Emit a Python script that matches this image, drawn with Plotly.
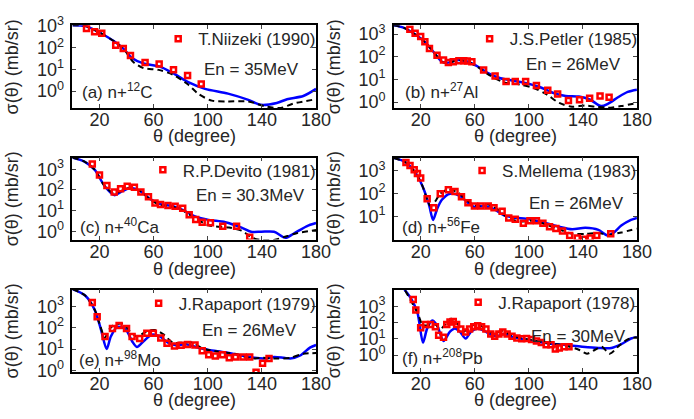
import plotly.graph_objects as go

W, H = 694, 419
FONT = "Liberation Sans, Arial, Helvetica, sans-serif"
TXT = "#262626"

# ---------------- data (theta in degree, sigma in mb/sr) ----------------
# (a) n+12C, 35 MeV
a_exp_t = [10.4, 16.4, 21.7, 32, 37.6, 42.9, 53.7, 64.1, 74.7, 85.1, 95.2]
a_exp_s = [780, 550, 470, 130, 93, 44, 21, 18, 9.6, 5.2, 2.1]
a_blue_t = [0, 9.8, 21, 30.8, 38, 44, 52.5, 64.6, 74, 86, 98, 115, 130, 139, 151, 158.6, 170.6, 180]
a_blue_s = [1100, 1000, 470, 200, 87, 34, 19, 13.5, 6.9, 2.5, 1.26, 0.76, 0.39, 0.23, 0.28, 0.42, 0.59, 1.26]
a_dash_t = [0, 9.8, 21, 30.8, 38, 45, 52.5, 63.8, 74, 85, 93.5, 103, 115, 130, 141.7, 154, 163, 180]
a_dash_s = [1100, 1000, 470, 200, 87, 22, 11.5, 9.5, 5.8, 2.1, 0.71, 0.36, 0.33, 0.33, 0.20, 0.166, 0.26, 0.42]

# (b) n+27Al, 26 MeV
b_exp_t = [11.9, 15.8, 19.9, 23, 26.4, 32, 36.8, 40.4, 44, 48.2, 51.8, 54.4, 57.8, 66.5, 75, 83.1,
           89.9, 97.6, 105.6, 114, 121.3, 129.3, 137.5, 145, 152.7, 159.4]
b_exp_s = [1620, 1100, 790, 457, 234, 115, 71, 55, 60, 66, 66, 65, 60, 26, 14.1, 8.1,
           8.1, 8.1, 5.4, 3.3, 2.24, 1.17, 1.26, 1.48, 1.86, 1.62]
b_blue_t = [0, 7.1, 16.3, 23.5, 29.6, 35.6, 40.4, 47.6, 54.9, 62.1, 69.4, 79, 88.7, 98.3, 108, 117.7,
            127.3, 137, 145.4, 153.4, 158.7, 166, 173.2, 180]
b_blue_s = [2450, 1950, 930, 417, 158, 60, 55, 71, 60, 37, 19.5, 11.2, 8.7, 6.8, 4.6, 2.57,
            1.86, 1.74, 1.26, 0.66, 0.85, 1.62, 2.8, 3.5]
b_dash_t = [0, 7.1, 16.3, 23.5, 29.6, 35.6, 40.4, 47.6, 54.9, 62.1, 71.8, 81.5, 93.6, 103, 112.8,
            122.5, 132, 141.8, 149, 158.7, 168.3, 180]
b_dash_s = [2450, 1950, 930, 417, 158, 60, 55, 71, 60, 35, 14.1, 7.4, 5.9, 4.3, 2.24,
            0.91, 0.62, 0.71, 0.62, 0.56, 0.66, 0.91]

# (c) n+40Ca, 30.3 MeV
c_exp_t = [14.7, 20, 25.5, 30.9, 35.6, 40.5, 45.8, 50.6, 56.2, 61, 65.1, 70.6, 75.9, 81.5, 86.3,
           91.1, 95.9, 102, 111.1, 121.3, 131]
c_exp_s = [1780, 525, 162, 79, 115, 151, 135, 79, 47, 23, 19.5, 17.4, 16.2, 12.9, 6.3,
           3.7, 2.75, 2.57, 1.74, 1.74, 0.52]
c_blue_t = [0, 9.2, 16.4, 23.6, 30.9, 36.9, 42.9, 50.1, 57.3, 64.6, 74.3, 81.5, 91.1, 100.7, 113,
            125, 132, 139.5, 149, 157.4, 163.4, 173, 180]
c_blue_s = [3630, 2290, 955, 162, 56, 87, 123, 87, 37, 21, 16.2, 10.7, 5.1, 3.55, 2.75,
            1.51, 0.95, 0.95, 0.95, 0.48, 0.76, 1.74, 2.5]
c_dash_t = [0, 9.2, 16.4, 23.6, 30.9, 36.9, 42.9, 50.1, 57.3, 64.6, 74.3, 81.5, 91.1, 100.7, 115.7,
            125, 133, 139.5, 149, 156, 165.7, 180]
c_dash_s = [3630, 2290, 955, 162, 66, 95, 123, 87, 35, 19, 14.8, 10, 4.2, 1.95, 1.51,
            1.07, 0.48, 0.38, 0.38, 0.52, 0.81, 1.15]

# (d) n+56Fe, 26 MeV
d_exp_t = [9, 12, 15.1, 17.5, 19.9, 24.7, 29.6, 34.4, 40.4, 45.3, 50.1, 54.9, 59.7, 64.6, 69.9, 74.2,
           80.2, 85.1, 89.9, 95.9, 100.8, 105.6, 110.4, 115.3, 120, 124.9, 130.2, 135.8, 140.6,
           145.4, 150.3, 160.6]
d_exp_s = [2340, 1700, 1120, 776, 490, 60, 24.5, 100, 148, 126, 74, 40, 29, 29, 29, 24.5,
           17, 8.7, 7.6, 5.1, 6.5, 6.5, 5.1, 3.55, 2.95, 2.34, 1.48, 1.15, 1.0,
           1.15, 1.48, 1.74]
d_blue_t = [0, 9, 16.3, 21.1, 26, 29.1, 32, 35.6, 41.6, 48.9, 54.9, 59.7, 67, 74.2, 81.5, 88.7,
            100.8, 112.8, 122.5, 132, 141.8, 151.5, 158.2, 162.3, 168.4, 175.6, 180]
d_blue_s = [3700, 2340, 776, 224, 34, 7.1, 21, 54, 100, 81, 40, 26, 29, 21, 11.2, 9.1,
            7.6, 5.1, 3.55, 2.75, 3.2, 2.6, 1.48, 1.86, 4.0, 7.1, 8.7]
d_dash_t = [0, 9, 16.3, 21.1, 27.2, 30.8, 34.4, 40.4, 47.6, 54.9, 62.1, 69.4, 76.6, 85.1, 93.6,
            103, 112.8, 122.5, 132, 141.8, 151.5, 158.7, 168.4, 180]
d_dash_s = [3700, 2340, 776, 224, 29, 47, 100, 151, 112, 47, 29, 34, 21, 8.3, 6.0,
            6.6, 4.4, 2.75, 1.74, 1.74, 1.9, 1.58, 2.0, 2.95]

# (e) n+98Mo, 26 MeV
e_exp_t = [14.7, 18.3, 24.1, 29.6, 34.5, 40, 44.1, 49.7, 55, 59.8, 65.3, 69.9, 75.4, 80.3, 85.1,
           90.6, 95.9, 100.7, 105.6, 110.9, 115.9, 120.5, 126, 131, 135.7, 140.5, 145.3]
e_exp_s = [1510, 331, 39, 91, 129, 91, 39, 31, 55, 55, 33, 18.6, 14.1, 15.1, 16.6,
           15.5, 8.3, 5.4, 4.7, 5.4, 3.9, 4.3, 4.3, 4.3, 0.83, 2.14, 3.6]
e_blue_t = [0, 9.2, 16.4, 21.2, 25.3, 28.4, 33.3, 39.3, 44.1, 47.7, 52.6, 58.6, 64.6, 70.6, 76.6,
            83.9, 91.1, 100.7, 112.8, 124.9, 134.5, 141.7, 149, 156.2, 161, 168.3, 175.5, 180]
e_blue_s = [6460, 3310, 708, 78, 10, 39, 110, 85, 23.4, 12.6, 23.4, 47, 39, 20, 15.1,
            16.6, 12.6, 9.1, 7.1, 5.0, 3.9, 3.6, 4.3, 3.9, 3.6, 5.0, 11.7, 15.5]
e_dash_t = [0, 9.2, 16.4, 20.5, 24, 27.5, 31, 36.9, 42.9, 47.7, 55, 61, 67, 74.3, 81.5, 88.7, 95.9,
            105.6, 120, 132, 139.3, 151.3, 161, 170.6, 180]
e_dash_s = [6460, 3310, 708, 126, 35, 89, 138, 155, 65, 39, 69, 78, 50, 20, 20, 20, 11,
            7.9, 6.0, 3.6, 3.9, 3.6, 3.9, 6.0, 6.5]

# (f) n+208Pb, 30 MeV
f_exp_t = [14.4, 16.3, 19.9, 23.5, 27.2, 30.8, 33.2, 36.8, 39.2, 41.6, 44, 46.5, 49.6, 53.2, 56.1,
           59.2, 62.1, 65, 68.2, 71.8, 74.7, 77.8, 80.7, 83.9, 87.5, 91.1, 94.7, 98.3, 102, 105.6,
           109.2, 112.8, 116.4, 119.6, 122.5, 126.1, 129.7]
f_exp_s = [2630, 589, 48, 76, 76, 55, 16.6, 12.6, 76, 107, 117, 76, 40, 26, 40,
           55, 63, 55, 40, 20, 14.5, 20, 26, 20, 14.5, 11.5, 10.2, 10.5, 9.3, 7.4,
           5.9, 4.3, 4.3, 2.4, 2.75, 3.3, 3.3]
f_blue_t = [5, 7.8, 12.7, 17.5, 21.6, 24.7, 28.4, 32, 36.8, 41.6, 45.3, 48.9, 53.2, 57.3, 62.1, 67,
            71.8, 76.2, 81.5, 86.3, 93.6, 103.2, 115.3, 127.3, 139.4, 151.5, 161.1, 168.4, 175.6, 180]
f_blue_s = [31600, 11500, 3020, 407, 5.9, 44, 135, 69, 7.4, 28, 44, 28, 10.5, 28, 44, 31,
            18.2, 14.5, 20, 14.5, 10.5, 7.4, 5.2, 4.2, 3.3, 2.75, 2.75, 4.7, 10.5, 12.6]
f_dash_t = [5, 7.8, 17.5, 21.6, 26, 30.8, 34.4, 38, 42.4, 46.5, 51.3, 54.9, 59.7, 64.6, 69.4, 74.2,
            80.2, 86.3, 93.6, 103.2, 115.3, 127.3, 137, 143, 149, 153.9, 159.9, 166, 173.2, 180]
f_dash_s = [31600, 11500, 407, 69, 69, 76, 40, 76, 170, 107, 28, 44, 76, 63, 31, 22,
            31, 18.2, 11.5, 8.1, 5.2, 3.8, 2.14, 1.23, 2.14, 3.3, 1.23, 3.3, 9.3, 12.6]

exp_names = ["T.Niizeki (1990)", "J.S.Petler (1985)", "R.P.Devito (1981)",
             "S.Mellema (1983)", "J.Rapaport (1979)", "J.Rapaport (1978)"]
energies = ["En = 35MeV", "En = 26MeV", "En = 30.3MeV", "En = 26MeV", "En = 26MeV", "En = 30MeV"]
labels = ["(a) n+<sup>12</sup>C", "(b) n+<sup>27</sup>Al", "(c) n+<sup>40</sup>Ca",
          "(d) n+<sup>56</sup>Fe", "(e) n+<sup>98</sup>Mo", "(f) n+<sup>208</sup>Pb"]
y_ranges = [[-0.79, 3.04], [-0.27, 3.39], [-0.40, 3.56], [-0.01, 3.58], [-0.07, 3.79], [-1.03, 4.03]]
x_ticks = [20, 60, 100, 140, 180]

exp_t = [a_exp_t, b_exp_t, c_exp_t, d_exp_t, e_exp_t, f_exp_t]
exp_s = [a_exp_s, b_exp_s, c_exp_s, d_exp_s, e_exp_s, f_exp_s]
blue_t = [a_blue_t, b_blue_t, c_blue_t, d_blue_t, e_blue_t, f_blue_t]
blue_s = [a_blue_s, b_blue_s, c_blue_s, d_blue_s, e_blue_s, f_blue_s]
dash_t = [a_dash_t, b_dash_t, c_dash_t, d_dash_t, e_dash_t, f_dash_t]
dash_s = [a_dash_s, b_dash_s, c_dash_s, d_dash_s, e_dash_s, f_dash_s]

# ---------------- layout geometry (pixels) ----------------
cols = [(74, 323), (402.5, 651)]
rows = [(15, 102), (154, 240), (292.5, 379)]
legend_pos = [(196.7, 31.7), (515, 31.7), (181, 169.3), (507.3, 170), (176.7, 309.3), (503.3, 308.3)]
energy_pos = [(257.5, 61.7), (585.8, 56.7), (256.5, 194), (589.5, 202.3), (255, 335), (591, 341.7)]
label_pos = [(81.7, 87), (411.7, 87), (80, 228.3), (409.3, 228.3), (79, 368.3), (409.3, 366)]
xtitle_y = [131, 270.5, 409]
ytitle_x = [12, 341]


def px(x):
    return x / W


def py(y):
    return 1 - y / H


fig = go.Figure()
layout = dict(width=W, height=H, margin=dict(l=0, r=0, t=0, b=0),
              paper_bgcolor="white", plot_bgcolor="white", showlegend=True,
              font=dict(family=FONT, size=17, color=TXT))
annotations = []

for i in range(6):
    r, c = divmod(i, 2)
    n = "" if i == 0 else str(i + 1)
    xa, ya = "x" + n, "y" + n
    lg = "legend" + n
    x0, x1 = cols[c]
    y0, y1 = rows[r]

    fig.add_trace(go.Scatter(x=blue_t[i], y=blue_s[i], mode="lines", xaxis=xa, yaxis=ya,
                             line=dict(color="#0000ff", width=2.5, shape="spline", smoothing=0.8),
                             showlegend=False, hoverinfo="skip"))
    fig.add_trace(go.Scatter(x=dash_t[i], y=dash_s[i], mode="lines", xaxis=xa, yaxis=ya,
                             line=dict(color="black", width=2, dash="6px,4px", shape="spline", smoothing=0.8),
                             showlegend=False, hoverinfo="skip"))
    fig.add_trace(go.Scatter(x=exp_t[i], y=exp_s[i], mode="markers", xaxis=xa, yaxis=ya,
                             name=exp_names[i], legend=lg,
                             marker=dict(symbol="square-open", size=5, color="#ff0000",
                                         line=dict(width=2.5, color="#ff0000"))))

    ax = dict(domain=[px(x0), px(x1)], range=[0, 180], anchor=ya,
              tickvals=x_ticks, ticks="inside", ticklen=4, tickwidth=1,
              showline=True, linecolor="black", linewidth=1.5, mirror="allticks",
              showgrid=False, zeroline=False, tickfont=dict(size=18, color=TXT),
              ticklabelstandoff=-5)
    tv = [1, 10, 100, 1000] if i != 3 else [10, 100, 1000]
    tt = ["10<sup>%d</sup>" % k for k in ([0, 1, 2, 3] if i != 3 else [1, 2, 3])]
    ay = dict(domain=[py(y1), py(y0)], type="log", range=y_ranges[i], anchor=xa,
              tickvals=tv, ticktext=tt, ticks="inside", ticklen=4, tickwidth=1,
              showline=True, linecolor="black", linewidth=1.5, mirror="allticks",
              showgrid=False, zeroline=False, tickfont=dict(size=18, color=TXT),
              ticklabelstandoff=3)
    layout["xaxis" + n] = ax
    layout["yaxis" + n] = ay

    lx, ly = legend_pos[i]
    layout[lg] = dict(x=px(lx - 35), xanchor="left", y=py(ly - 2), yanchor="middle",
                      bgcolor="rgba(0,0,0,0)", borderwidth=0,
                      font=dict(size=17, color=TXT, family=FONT))

    ex, ey = energy_pos[i]
    annotations.append(dict(text=energies[i], x=px(ex), y=py(ey), xref="paper", yref="paper",
                            xanchor="center", yanchor="middle", showarrow=False,
                            font=dict(size=17, color=TXT)))
    bx, by = label_pos[i]
    annotations.append(dict(text=labels[i], x=px(bx), y=py(by - 3), xref="paper", yref="paper",
                            xanchor="left", yanchor="middle", showarrow=False,
                            font=dict(size=17, color=TXT)))
    annotations.append(dict(text="θ (degree)", x=px((x0 + x1) / 2), y=py(xtitle_y[r]),
                            xref="paper", yref="paper", xanchor="center", yanchor="middle",
                            showarrow=False, font=dict(size=18, color=TXT)))
    annotations.append(dict(text="σ(θ) (mb/sr)", x=px(ytitle_x[c]), y=py((y0 + y1) / 2),
                            xref="paper", yref="paper", xanchor="center", yanchor="middle",
                            textangle=-90, showarrow=False, font=dict(size=18, color=TXT)))

layout["annotations"] = annotations
fig.update_layout(**layout)
fig.write_html("out.html")
